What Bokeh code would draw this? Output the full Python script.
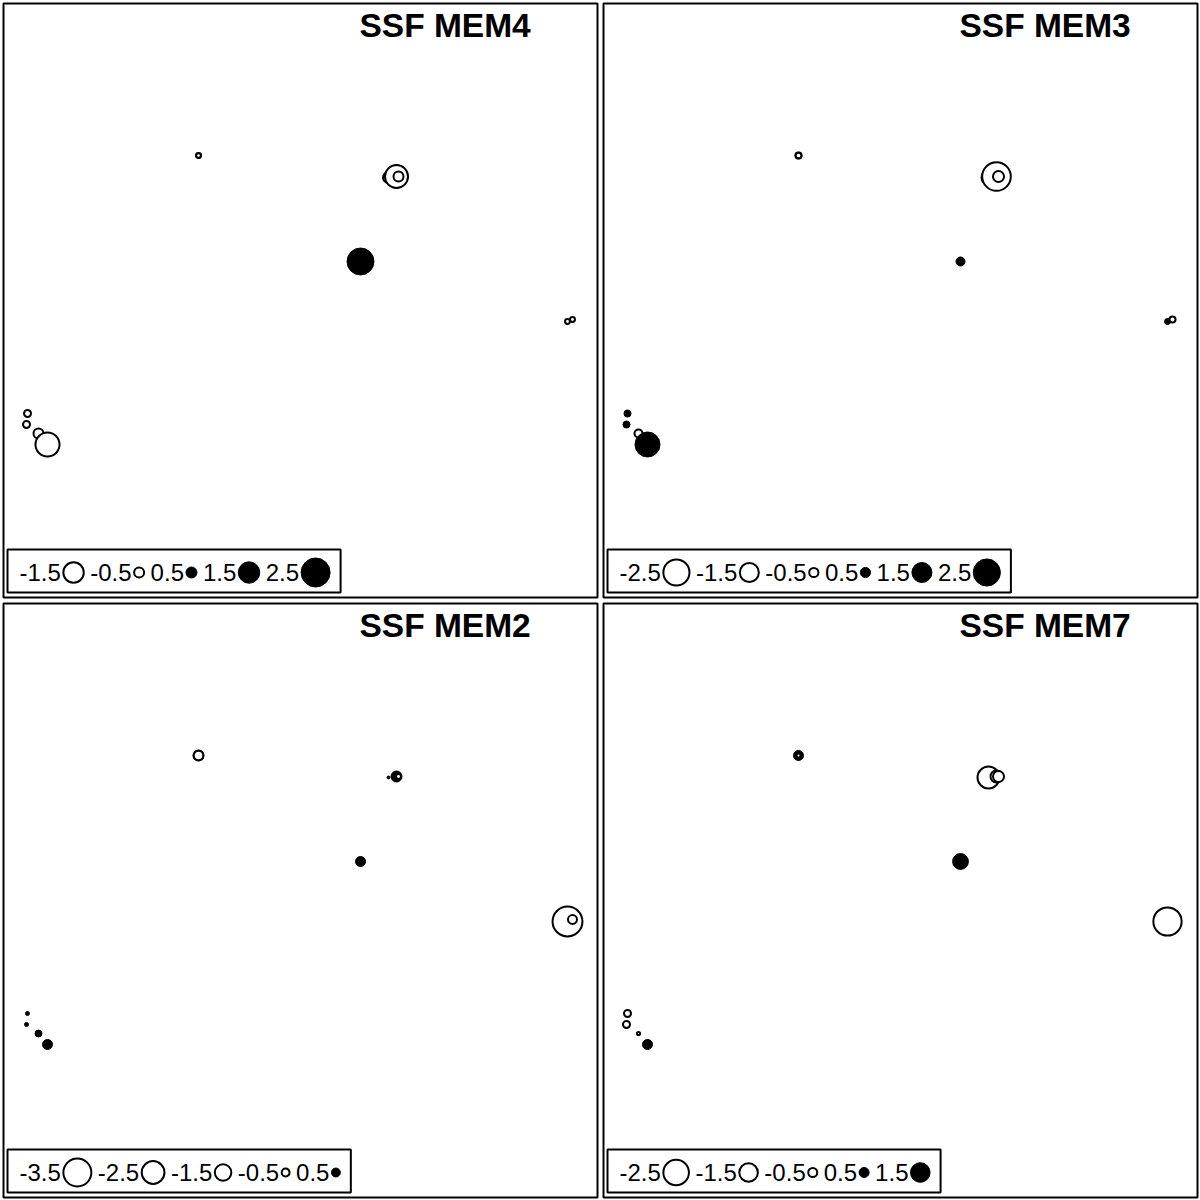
from bokeh.plotting import figure
from bokeh.layouts import gridplot
from bokeh.models import Range1d, ColumnDataSource
from bokeh.core.properties import value
from bokeh.embed import file_html
from bokeh.resources import INLINE

# site coordinates (map units)
site_x = [195, 195, 385, 393, 395, 357, 564, 569, 24, 23, 35, 44]
site_y = [442, 442, 420, 421, 421, 336, 276, 278, 184, 173, 164, 153]

titles = ["SSF MEM4", "SSF MEM3", "SSF MEM2", "SSF MEM7"]
mem4 = [-0.19, -0.18, -0.58, -1.82, -0.50, 2.21, -0.19, -0.19, -0.30, -0.30, -0.50, -1.95]
mem3 = [-0.28, -0.26, -0.93, -2.90, -0.65, 0.41, 0.22, -0.28, 0.28, 0.28, -0.41, 2.18]
mem2 = [-0.70, -0.66, 0.10, 0.70, -0.27, 0.60, -3.90, -0.60, 0.15, 0.15, 0.34, 0.60]
mem7 = [0.50, -0.17, -1.96, -0.76, -0.67, 1.05, -2.95, 0.00, -0.35, -0.35, -0.13, 0.50]
legend4 = [-1.5, -0.5, 0.5, 1.5, 2.5]
legend3 = [-2.5, -1.5, -0.5, 0.5, 1.5, 2.5]
legend2 = [-3.5, -2.5, -1.5, -0.5, 0.5]
legend7 = [-2.5, -1.5, -0.5, 0.5, 1.5]

# symbol-size reference magnitude of each panel (value drawn at full size)
scale_max = [2.5, 2.8, 3.5, 2.9]

FONT = value("Liberation Sans")
LEG_FS = 24
FULL = 30.0


def outer(v, m):
    return FULL * (abs(v) / m) ** 0.57


def lw(v):
    if v == 0:
        return 0.0
    return 1.0 if v > 0 else 2.0


CHAR_W = {'-': 0.333, '.': 0.278}


def text_w(s, fs=LEG_FS):
    return sum(CHAR_W.get(c, 0.556) for c in s) * fs


def panel(title, vals, leg, m):
    p = figure(width=600, height=600, x_range=Range1d(0, 594), y_range=Range1d(0, 594),
               x_axis_type=None, y_axis_type=None, toolbar_location=None,
               output_backend="svg", min_border=3,
               outline_line_color="black", outline_line_width=2,
               background_fill_color="white", border_fill_color="white")
    keep = [i for i, v in enumerate(vals) if v != 0]
    src = ColumnDataSource(dict(x=[site_x[i] for i in keep], y=[site_y[i] for i in keep],
                                size=[outer(vals[i], m) - lw(vals[i]) for i in keep],
                                lw=[lw(vals[i]) for i in keep],
                                fill=["black" if vals[i] > 0 else "white" for i in keep]))
    p.scatter("x", "y", source=src, marker="circle", size="size", fill_color="fill",
              line_color="black", line_width="lw")
    p.text(x=[356], y=[572.5], text=[title], text_font=FONT, text_font_style="bold",
           text_font_size="33.5px", text_align="left", text_baseline="alphabetic",
           text_color="black")
    lx, tx, cx, cs, cf, cl = [], [], [], [], [], []
    x = 16
    for v in leg:
        lab = f"{v:.1f}"
        lx.append(x)
        tx.append(lab)
        x += text_w(lab) + 1.5
        od = outer(v, m)
        cx.append(x + od / 2)
        cs.append(od - lw(v))
        cl.append(lw(v))
        cf.append("black" if v > 0 else "white")
        x += od + 5.5
    right = x - 5.5 + 10
    p.quad(left=[4], right=[right], bottom=[5], top=[48], fill_color="white",
           line_color="black", line_width=2)
    p.text(x=lx, y=[25.5] * len(lx), text=tx, text_font=FONT,
           text_font_size=f"{LEG_FS}px",
           text_align="left", text_baseline="alphabetic", text_color="black")
    p.scatter(cx, [25] * len(cx), marker="circle", size=cs, fill_color=cf,
              line_color="black", line_width=cl)
    return p


p1 = panel(titles[0], mem4, legend4, scale_max[0])
p2 = panel(titles[1], mem3, legend3, scale_max[1])
p3 = panel(titles[2], mem2, legend2, scale_max[2])
p4 = panel(titles[3], mem7, legend7, scale_max[3])

grid = gridplot([[p1, p2], [p3, p4]], toolbar_location=None)
open("out.html", "w").write(file_html(grid, INLINE))
